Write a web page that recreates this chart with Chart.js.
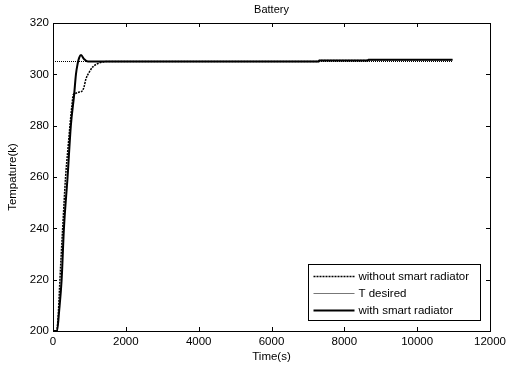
<!DOCTYPE html>
<html>
<head>
<meta charset="utf-8">
<script src="https://cdn.jsdelivr.net/npm/chart.js@4/dist/chart.umd.min.js"></script>
<style>
  html, body { margin: 0; padding: 0; background: #fff; }
  #wrap { width: 510px; height: 371px; }
</style>
</head>
<body>
<div id="wrap"><canvas id="battery"></canvas></div>
<script>
// Temperatura de la batería (K) en función del tiempo (s)
const tiempoSin = [0, 100, 150, 190, 265, 345, 410, 465, 520, 555, 600, 700, 800, 850, 900, 1000, 1100, 1250, 1400, 1500, 3000, 5000, 7300, 7310, 8650, 8660, 10970]
const tempSin = [200, 200, 208, 220, 240, 260, 271, 280, 288, 292, 292.5, 293, 293.5, 295, 298, 301, 303, 304.3, 304.9, 305, 305, 305, 305, 305.4, 305.4, 305.7, 305.7]

const tiempoCon = [0, 110, 170, 237, 300, 400, 490, 580, 630, 675, 720, 770, 850, 960, 1100, 3000, 7300, 7310, 8650, 8660, 10970]
const tempCon = [200, 200, 208, 220, 240, 260, 280, 292, 300, 304, 306.5, 307.5, 306, 305, 305, 305, 305, 305.4, 305.4, 305.7, 305.7]

const tiempoDeseado = [0, 10970]
const tempDeseado = [305, 305]

const ticksX = [0, 2000, 4000, 6000, 8000, 10000, 12000]
const ticksY = [200, 220, 240, 260, 280, 300, 320]

const puntos = (xs, ys) => xs.map((x, i) => ({ x: x, y: ys[i] }))

const familia = 'Liberation Sans, Arial, sans-serif'
const fuente = { family: familia, size: 11 }
const fuenteTicks = { family: familia, size: 11.5 }

// Marco tipo MATLAB: caja completa con marcas hacia adentro
const marco = {
  id: 'marco',
  afterDraw(chart) {
    const { ctx, chartArea: a, scales } = chart
    ctx.save()
    ctx.strokeStyle = '#000'
    ctx.lineWidth = 1
    ctx.strokeRect(a.left + 0.5, a.top + 0.5, a.right - a.left, a.bottom - a.top)
    ctx.beginPath()
    for (let v of ticksX) {
      const px = Math.round(scales.x.getPixelForValue(v)) + 0.5
      ctx.moveTo(px, a.bottom); ctx.lineTo(px, a.bottom - 4)
      ctx.moveTo(px, a.top); ctx.lineTo(px, a.top + 4)
    }
    for (let v of ticksY) {
      const py = Math.round(scales.y.getPixelForValue(v)) + 0.5
      ctx.moveTo(a.left, py); ctx.lineTo(a.left + 4, py)
      ctx.moveTo(a.right, py); ctx.lineTo(a.right - 4, py)
    }
    ctx.stroke()

    // Título centrado sobre el área del gráfico
    ctx.fillStyle = '#000'
    ctx.font = '11px ' + familia
    ctx.textAlign = 'center'
    ctx.textBaseline = 'middle'
    ctx.fillText('Battery', (a.left + a.right) / 2, 10)

    // Leyenda en la esquina inferior derecha
    const w = 172, h = 56
    const lx = Math.round(a.right - 10 - w) + 0.5
    const ly = Math.round(a.bottom - 11 - h) + 0.5
    ctx.fillStyle = '#fff'
    ctx.fillRect(lx, ly, w, h)
    ctx.strokeStyle = '#000'
    ctx.lineWidth = 1
    ctx.setLineDash([])
    ctx.strokeRect(lx, ly, w, h)
    const filas = [
      { texto: 'without smart radiator', ancho: 1.5, dash: [2, 1], color: '#000' },
      { texto: 'T desired', ancho: 1, dash: [], color: '#777' },
      { texto: 'with smart radiator', ancho: 2, dash: [], color: '#000' }
    ]
    ctx.textAlign = 'left'
    ctx.font = '11.5px ' + familia
    filas.forEach((f, i) => {
      const y = ly + 12 + i * 17
      ctx.beginPath()
      ctx.setLineDash(f.dash)
      ctx.lineWidth = f.ancho
      ctx.strokeStyle = f.color
      ctx.moveTo(lx + 5, y); ctx.lineTo(lx + 46, y)
      ctx.stroke()
      ctx.setLineDash([])
      ctx.fillStyle = '#000'
      ctx.fillText(f.texto, lx + 50, y)
    })
    ctx.restore()
  }
}

window.addEventListener('load', () => {
  new Chart(document.getElementById('battery'), {
    type: 'line',
    data: {
      datasets: [{
        label: 'without smart radiator',
        data: puntos(tiempoSin, tempSin),
        borderColor: '#000',
        borderWidth: 1.5,
        borderDash: [2, 1],
        cubicInterpolationMode: 'monotone',
      }, {
        label: 'T desired',
        data: puntos(tiempoDeseado, tempDeseado),
        borderColor: '#000',
        borderWidth: 1,
        borderDash: [1, 1],
      }, {
        label: 'with smart radiator',
        data: puntos(tiempoCon, tempCon),
        borderColor: '#000',
        borderWidth: 2,
        cubicInterpolationMode: 'monotone',
      }]
    },
    options: {
      responsive: true,
      maintainAspectRatio: false,
      animation: false,
      elements: { point: { radius: 0 } },
      layout: { padding: { top: 23, right: 17, left: 0, bottom: 0 } },
      plugins: { legend: { display: false }, tooltip: { enabled: false } },
      scales: {
        x: {
          type: 'linear',
          min: 0,
          max: 12000,
          afterFit: (s) => { s.height = 40 },
          grid: { display: false, drawTicks: false },
          border: { display: false },
          ticks: { stepSize: 2000, padding: 4, color: '#000', font: fuenteTicks, maxRotation: 0, callback: (v) => String(v) },
          title: { display: true, text: 'Time(s)', color: '#000', font: fuenteTicks, padding: { top: 0, bottom: 7 } }
        },
        y: {
          type: 'linear',
          min: 200,
          max: 320,
          afterFit: (s) => { s.width = 53 },
          grid: { display: false, drawTicks: false },
          border: { display: false },
          ticks: { stepSize: 20, padding: 4, color: '#000', font: fuenteTicks, callback: (v) => String(v) },
          title: { display: true, text: 'Tempature(k)', color: '#000', font: fuenteTicks, padding: { top: 6, bottom: 0 } }
        }
      }
    },
    plugins: [marco]
  })
})
</script>
</body>
</html>
